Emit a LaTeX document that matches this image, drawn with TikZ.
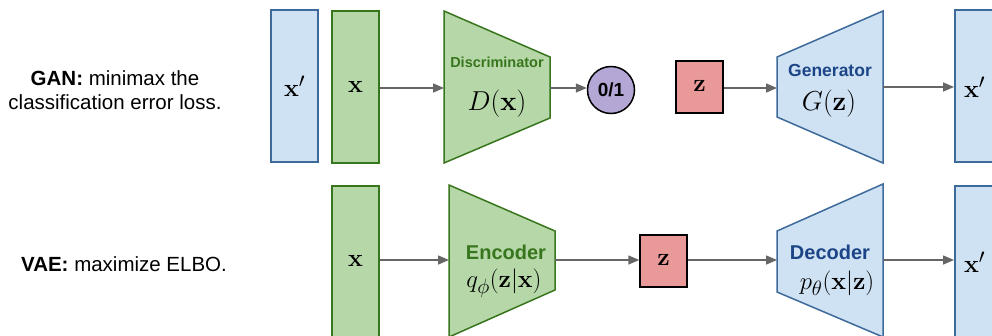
\documentclass[tikz,border=0pt]{standalone}
\usepackage[no-math]{fontspec}
\setsansfont{Liberation Sans}
\usetikzlibrary{arrows.meta}
\definecolor{gfill}{HTML}{B6D7A8}
\definecolor{gdraw}{HTML}{38761D}
\definecolor{bfill}{HTML}{CFE2F3}
\definecolor{bdraw}{HTML}{3D6A9B}
\definecolor{btext}{HTML}{1C4587}
\definecolor{rfill}{HTML}{EA9999}
\definecolor{pfill}{HTML}{B4A7D6}
\definecolor{agray}{HTML}{666666}
\tikzset{
  greenbox/.style={draw=gdraw, fill=gfill, line width=1.5pt, minimum width=47pt, minimum height=152pt, inner sep=0pt},
  bluebox/.style={draw=bdraw, fill=bfill, line width=1.5pt, minimum width=47pt, minimum height=152pt, inner sep=0pt},
  zbox/.style={draw=black, fill=rfill, line width=1.5pt, minimum width=47pt, minimum height=52pt, inner sep=0pt},
  outcirc/.style={draw=black, fill=pfill, line width=1.5pt, circle, minimum size=47pt, inner sep=0pt, font=\fontsize{19}{21}\sffamily\bfseries},
  gtrap/.style={draw=gdraw, fill=gfill, line width=1.5pt},
  btrap/.style={draw=bdraw, fill=bfill, line width=1.5pt},
  conn/.style={draw=agray, line width=1.5pt, -{Triangle[length=11pt,width=9pt]}},
  mathlab/.style={inner sep=0pt, font=\Huge},
  sidetext/.style={align=center, font=\fontsize{20.5}{24}\sffamily},
}
\begin{document}
\begin{tikzpicture}[x=1pt,y=-1pt]
\useasboundingbox (0,0) rectangle (992,335);
\clip (0,0) rectangle (992,335);
\fill[white] (0,0) rectangle (992,335);

% side texts
\node[sidetext] (gantext) at (115,90) {\textbf{GAN:} minimax the\\classification error loss.};
\node[sidetext] (vaetext) at (124,264) {\textbf{VAE:} maximize ELBO.};

% ---------- GAN row ----------
\node[bluebox] (xp1) at (294.5,86) {};
\node[mathlab] (xp1t) at (294.5,86) {$\mathbf{x}'$};
\node[greenbox] (x1) at (355.5,87) {};
\node[mathlab] (x1t) at (355.5,87) {$\mathbf{x}$};
\path[gtrap] (444,11) -- (550,57) -- (550,118) -- (444,163) -- cycle;
\coordinate (Din) at (444,88);
\coordinate (Dout) at (550,88);
\node[text=gdraw, font=\fontsize{14.5}{16}\sffamily\bfseries] (Dlab) at (497,62) {Discriminator};
\node[mathlab] (Dfun) at (497,104) {\scalebox{1.1}{$D(\mathbf{x})$}};
\node[outcirc] (out) at (611,90) {0/1};
\node[zbox] (z1) at (699.5,87) {};
\node[mathlab] (z1t) at (699.5,86) {$\mathbf{z}$};
\path[btrap] (777,57) -- (883,11) -- (883,163) -- (777,117) -- cycle;
\coordinate (Gin) at (777,88);
\coordinate (Gout) at (883,87);
\node[text=btext, font=\fontsize{17.5}{19}\sffamily\bfseries] (Glab) at (830,70) {Generator};
\node[mathlab] (Gfun) at (829,104) {\scalebox{1.1}{$G(\mathbf{z})$}};
\node[bluebox, anchor=west] (xp2) at (954,86) {};
\node[mathlab, anchor=west] (xp2t) at (964,87) {$\mathbf{x}'$};

\draw[conn] (x1.east |- Din) -- (Din);
\draw[conn] (Dout) -- (out.west |- Dout);
\draw[conn] (z1.east |- Gin) -- (Gin);
\draw[conn] (Gout) -- (xp2.west |- Gout);

% ---------- VAE row ----------
\node[greenbox, anchor=north] (x2) at (355.5,185) {};
\node[mathlab] (x2t) at (355.5,261) {$\mathbf{x}$};
\path[gtrap] (449,185) -- (555,231) -- (555,290) -- (449,337) -- cycle;
\coordinate (Ein) at (449,260);
\coordinate (Eout) at (555,260);
\node[text=gdraw, font=\fontsize{20}{22}\sffamily\bfseries, inner sep=0pt] (Elab) at (506,252) {Encoder};
\node[mathlab] (Efun) at (504,283) {$q_\phi(\mathbf{z}|\mathbf{x})$};
\node[zbox] (z2) at (663.5,261) {};
\node[mathlab] (z2t) at (663.5,260) {$\mathbf{z}$};
\path[btrap] (777,231) -- (883,184) -- (883,337) -- (777,292) -- cycle;
\coordinate (Decin) at (777,260);
\coordinate (Decout) at (883,260);
\node[text=btext, font=\fontsize{20}{22}\sffamily\bfseries, inner sep=0pt] (Declab) at (830,252) {Decoder};
\node[mathlab] (Decfun) at (837,283) {$p_\theta(\mathbf{x}|\mathbf{z})$};
\node[bluebox, anchor=north west] (xp3) at (954,185) {};
\node[mathlab, anchor=west] (xp3t) at (964,262) {$\mathbf{x}'$};

\draw[conn] (x2.east |- Ein) -- (Ein);
\draw[conn] (Eout) -- (z2.west |- Eout);
\draw[conn] (z2.east |- Decin) -- (Decin);
\draw[conn] (Decout) -- (xp3.west |- Decout);
\end{tikzpicture}
\end{document}
